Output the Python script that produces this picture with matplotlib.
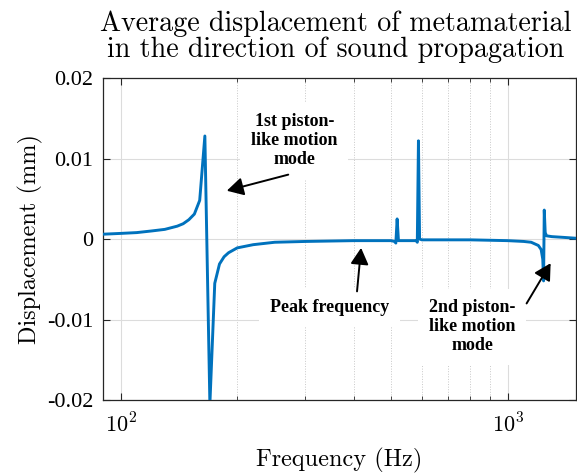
import math
import matplotlib
matplotlib.use('Agg')
import matplotlib.pyplot as plt
from matplotlib.ticker import FixedLocator, FuncFormatter, NullFormatter, LogLocator

# data
freq = [90, 100, 110, 120, 130, 140, 145, 150, 155, 160, 165, 170, 175, 180, 185, 190,
        200, 220, 250, 300, 400, 500, 510, 514, 518, 522, 540, 580, 584, 588, 592, 600,
        700, 800, 1000, 1100, 1150, 1200, 1220, 1232, 1238, 1243, 1250, 1260, 1300, 1400, 1500]
disp = [0.0006, 0.0007, 0.0008, 0.0010, 0.0012, 0.0016, 0.0019, 0.0024, 0.0031, 0.0048,
        0.0128, -0.0205, -0.0055, -0.0031, -0.0022, -0.0017,
        -0.0011, -0.0007, -0.0004, -0.0003, -0.0002, -0.0002, -0.0003, -0.0005, 0.0025, -0.0002,
        -0.0002, -0.0002, -0.0004, 0.0122, 0.0000, -0.0001,
        -0.0001, -0.0001, -0.0002, -0.0003, -0.0004, -0.0008, -0.0013, -0.0025, -0.0052, 0.0036,
        0.0008, 0.0004, 0.0003, 0.0002, 0.0001]

ytick_vals = [-0.02, -0.01, 0, 0.01, 0.02]
ytick_labels = ['-0.02', '-0.01', '0', '0.01', '0.02']

title_text = 'Average displacement of metamaterial\nin the direction of sound propagation'
xlabel_text = 'Frequency (Hz)'
ylabel_text = 'Displacement (mm)'

notes = [
    ('1st piston-\nlike motion\nmode', (281, 0.0122), (271, 0.0080), (188, 0.0060)),
    ('Peak frequency', (346, -0.0085), (408, -0.0065), (418, -0.0011)),
    ('2nd piston-\nlike motion\nmode', (810, -0.0109), (1119, -0.0080), (1291, -0.0030)),
]

plt.rcParams['mathtext.fontset'] = 'cm'
plt.rcParams['axes.unicode_minus'] = False

fig = plt.figure(figsize=(5.77, 4.74), dpi=100)
ax = fig.add_axes([0.1785, 0.156, 0.8195, 0.6794])

ax.plot(freq, disp, color='#0072BD', lw=2.1, zorder=3)
ax.set_xscale('log')
ax.set_xlim(90, 1500)
ax.set_ylim(-0.02, 0.02)

ax.xaxis.set_major_locator(FixedLocator([100, 1000]))
ax.xaxis.set_major_formatter(FuncFormatter(lambda v, p: r'$10^{%d}$' % round(math.log10(v))))
ax.xaxis.set_minor_locator(LogLocator(base=10, subs=range(2, 10)))
ax.xaxis.set_minor_formatter(NullFormatter())
ax.set_yticks(ytick_vals)
ax.set_yticklabels(ytick_labels, family='Liberation Serif')

ax.tick_params(which='both', direction='in', top=True, right=True, color='#262626')
ax.tick_params(which='major', length=5, labelsize=16, width=0.8)
ax.tick_params(which='minor', length=3, width=0.6)
ax.tick_params(axis='x', pad=9)
ax.tick_params(axis='y', pad=7)
for s in ax.spines.values():
    s.set_color('#262626')
    s.set_linewidth(0.9)

ax.grid(which='major', color='#dcdcdc', lw=0.8, ls='-', zorder=0)
ax.grid(which='minor', axis='x', color='#c8c8c8', lw=0.7, ls=':', zorder=0)
ax.set_axisbelow(True)

ax.set_title(title_text, family='cmr10', fontsize=20.2, linespacing=1.0, pad=15, x=0.492)
ax.set_xlabel(xlabel_text, family='cmr10', fontsize=17.5, labelpad=8)
ax.set_ylabel(ylabel_text, family='cmr10', fontsize=17.5, labelpad=3)

for text, tpos, tail, head in notes:
    ax.text(tpos[0], tpos[1], text, ha='center', va='center', fontsize=13,
            family='Liberation Serif', weight='bold', linespacing=1.15, zorder=2,
            bbox=dict(boxstyle='square,pad=0.6', fc='white', ec='none'))
    ax.annotate('', xy=head, xytext=tail, zorder=4,
                arrowprops=dict(arrowstyle='-|>,head_length=1.0,head_width=0.55',
                                color='black', lw=1.4, shrinkA=0, shrinkB=0))

fig.savefig('out.png', dpi=100)
